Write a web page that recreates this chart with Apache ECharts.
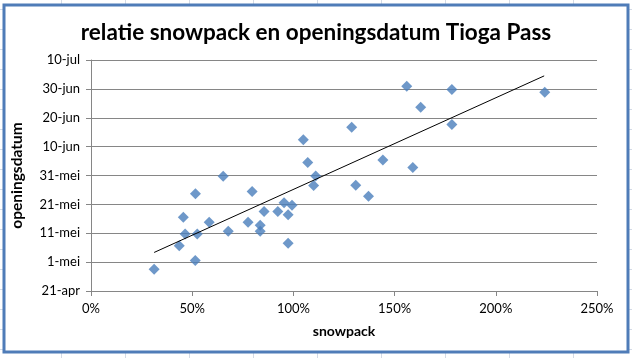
<!DOCTYPE html>
<html>
<head>
<meta charset="utf-8">
<script src="https://cdn.jsdelivr.net/npm/echarts@6/dist/echarts.min.js"></script>
<style>
html,body{margin:0;padding:0;background:#fff;}
#c{width:632px;height:358px;}
</style>
</head>
<body>
<div id="c"></div>
<script>
// snowpack (% of normal)
const snowpack = [31.2, 43.6, 45.6, 46.5, 51.6, 51.5, 52.5, 58.4, 65.3, 67.8,
  77.6, 79.6, 83.6, 83.6, 85.5, 92.3, 95.4, 97.4, 97.4, 99.3,
  104.9, 107.1, 111.0, 110.0, 128.8, 130.8, 137.1, 144.2, 156.0, 159.0,
  162.9, 178.3, 178.3, 224.2];
// opening date, as days after 21-apr
const openingDay = [7.5, 15.7, 25.5, 19.7, 33.7, 10.6, 19.7, 23.8, 39.7, 20.7,
  23.8, 34.5, 22.8, 20.7, 27.5, 27.5, 30.6, 26.4, 16.5, 29.7,
  52.4, 44.5, 39.8, 36.5, 56.7, 36.6, 32.8, 45.4, 70.9, 42.8,
  63.6, 69.8, 57.7, 68.8];
// trend line end points
const trendX = [31.2, 223.9];
const trendY = [13.35, 74.5];
// y tick labels (every 10 days from 21-apr)
const yTickLabels = ["21-apr", "1-mei", "11-mei", "21-mei", "31-mei", "10-jun", "20-jun", "30-jun", "10-jul"];

const font = "Lato, 'Open Sans', sans-serif";
const chart = echarts.init(document.getElementById('c'), null, {renderer: 'canvas'});

// spreadsheet background lines
const bg = [];
for (let x = 61; x < 632; x += 64) bg.push({type:'line', shape:{x1:x+0.5,y1:0,x2:x+0.5,y2:358}, style:{stroke:'#d4dbe6',lineWidth:1}, z:-10});
for (let y = 9; y < 358; y += 20) bg.push({type:'line', shape:{x1:0,y1:y+0.5,x2:632,y2:y+0.5}, style:{stroke:'#d4dbe6',lineWidth:1}, z:-10});
bg.push({type:'rect', shape:{x:4,y:5,width:624,height:347}, style:{fill:'#fff',stroke:'#4f7cb8',lineWidth:3}, z:-5});

chart.setOption({
  animation: false,
  backgroundColor: '#fff',
  graphic: bg,
  title: {
    text: 'relatie snowpack en openingsdatum Tioga Pass',
    left: 'center', top: 16,
    textStyle: {fontFamily: font, fontWeight: 'bold', fontSize: 22.5, color: '#000'}
  },
  grid: {left: 91, right: 35, top: 60, bottom: 67},
  xAxis: {
    type: 'value', min: 0, max: 250, interval: 50,
    name: 'snowpack', nameLocation: 'middle', nameGap: 33,
    nameTextStyle: {fontFamily: font, fontWeight: 'bold', fontSize: 14, color: '#000'},
    axisLine: {lineStyle: {color: '#868686'}},
    axisTick: {show: true, length: 5, lineStyle: {color: '#868686'}},
    splitLine: {show: false},
    axisLabel: {fontFamily: font, fontSize: 13, color: '#000', margin: 11, formatter: v => v + '%'}
  },
  yAxis: {
    type: 'value', min: 0, max: 80, interval: 10,
    name: 'openingsdatum', nameLocation: 'middle', nameGap: 66, nameRotate: 90,
    nameTextStyle: {fontFamily: font, fontWeight: 'bold', fontSize: 15.5, color: '#000'},
    axisLine: {show: true, lineStyle: {color: '#868686'}},
    axisTick: {show: true, length: 5, lineStyle: {color: '#868686'}},
    splitLine: {show: true, lineStyle: {color: '#868686'}},
    axisLabel: {fontFamily: font, fontSize: 13, color: '#000', margin: 11,
      formatter: v => yTickLabels[Math.round(v / 10)]}
  },
  series: [
    {
      type: 'scatter', symbol: 'diamond', symbolSize: 11,
      itemStyle: {color: '#4a7ebb'},
      data: snowpack.map((x, i) => [x, openingDay[i]]),
      z: 3
    },
    {
      type: 'line', symbol: 'none',
      lineStyle: {color: '#000', width: 1},
      data: trendX.map((x, i) => [x, trendY[i]]),
      z: 4
    }
  ]
});
</script>
</body>
</html>
